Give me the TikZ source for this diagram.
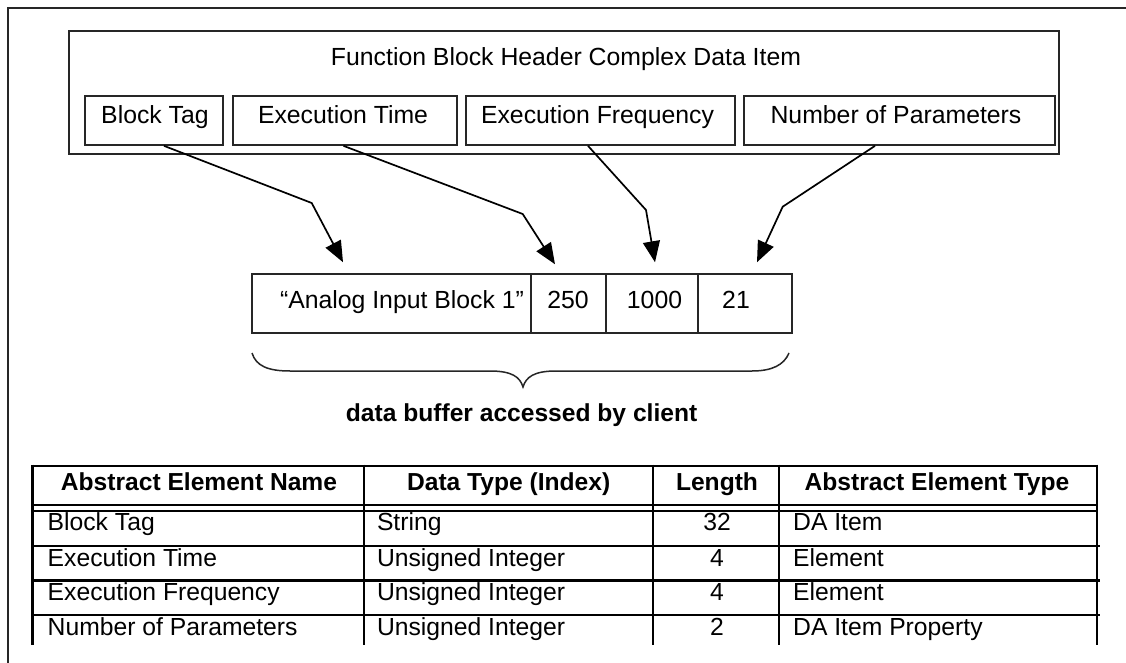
\documentclass[tikz,border=0pt]{standalone}
\usepackage{fontspec}
\setmainfont{Liberation Sans}
\usetikzlibrary{arrows.meta,calc}
\begin{document}
\begin{tikzpicture}[x=1pt,y=-1pt,
  frameline/.style={line width=1.5pt, black!85},
  hbox/.style={draw=black!85, line width=1.7pt, inner sep=0pt},
  sbox/.style={draw=black!85, line width=1.7pt, inner sep=0pt, minimum height=49pt},
  cellbox/.style={draw=black!85, line width=1.5pt, inner sep=0pt, minimum height=59pt},
  lbl/.style={inner sep=0pt, anchor=base, font=\fontsize{24.8}{30}\selectfont},
  captext/.style={inner sep=0pt, anchor=base, font=\fontsize{24.6}{29}\selectfont\bfseries},
  thead/.style={inner sep=0pt, anchor=base, font=\fontsize{24.6}{29}\selectfont\bfseries},
  tcell/.style={inner sep=0pt, anchor=base west, font=\fontsize{24.7}{29}\selectfont},
  tcellc/.style={inner sep=0pt, anchor=base, font=\fontsize{24.7}{29}\selectfont},
  arr/.style={line width=1.7pt, -{Triangle[length=21pt,width=17pt]}},
  thickrule/.style={line width=2.7pt},
  thinrule/.style={line width=1.4pt}
]
\useasboundingbox (0,0) rectangle (1126,663);
\fill[white] (0,0) rectangle (1126,663);
% outer frame
\draw[frameline] (1126,8) -- (8,8) -- (8,663);

% header complex data item
\node[hbox, minimum width=990pt, minimum height=123pt] (hdr) at (564,92.5) {};
\node[lbl] (title) at (566,66) {Function Block Header Complex Data Item};
\node[sbox, minimum width=138pt] (bt) at (154,120.5) {};
\node[sbox, minimum width=224pt] (et) at (345,120.5) {};
\node[sbox, minimum width=269pt] (ef) at (600.5,120.5) {};
\node[sbox, minimum width=311pt] (np) at (899.5,120.5) {};
\node[lbl] (btt) at (155,124) {Block Tag};
\node[lbl] (ett) at (343,124) {Execution Time};
\node[lbl] (eft) at (597.5,124) {Execution Frequency};
\node[lbl] (npt) at (896,124) {Number of Parameters};

% data buffer
\node[cellbox, minimum width=279pt] (c1) at (391.5,303.5) {};
\node[cellbox, minimum width=75pt] (c2) at (568.5,303.5) {};
\node[cellbox, minimum width=92pt] (c3) at (652,303.5) {};
\node[cellbox, minimum width=94pt] (c4) at (745,303.5) {};
\node[lbl] (c1t) at (402,308) {“Analog Input Block 1”};
\node[lbl] (c2t) at (568,308) {250};
\node[lbl] (c3t) at (654.5,308) {1000};
\node[lbl] (c4t) at (736,308) {21};

% arrows
\draw[arr] ([xshift=10pt]bt.south) -- (311.7,203) -- ([xshift=-48.5pt,yshift=11pt]c1.north);
\draw[arr] ([xshift=-1.5pt]et.south) -- (522.7,214) -- ([xshift=-13.5pt,yshift=9pt]c2.north);
\draw[arr] ([xshift=-12.5pt]ef.south) -- (646,210) -- ([xshift=3pt,yshift=11pt]c3.north);
\draw[arr] ([xshift=-24.5pt]np.south) -- (782.7,206.7) -- ([xshift=12pt,yshift=11pt]c4.north);

% brace
\draw[line width=1.5pt, black!85] (252,353) .. controls (256,366) and (268,371) .. (290,371)
  -- (490,371) .. controls (512,371) and (520,377) .. (523,387)
  .. controls (526,377) and (534,371) .. (556,371)
  -- (752,371) .. controls (772,371) and (784,365) .. (789,353);
\node[captext] (capt) at (521.6,421.5) {data buffer accessed by client};

% table lines
\draw[thickrule] (32.7,466) -- (1097,466);
\draw[thickrule] (32.7,505) -- (1097,505);
\draw[line width=2pt] (32.7,510.5) -- (1097,510.5);
\draw[thinrule] (32.7,546) -- (1100,546);
\draw[thickrule] (32.7,580.5) -- (1100,580.5);
\draw[thinrule] (32.7,615) -- (1100,615);
\foreach \xx in {32.7,364,653,779,1097}
  \draw[thickrule] (\xx,464.7) -- (\xx,645);

% table header
\node[thead] (h1) at (199,490) {Abstract Element Name};
\node[thead] (h2) at (508.7,490) {Data Type (Index)};
\node[thead] (h3) at (717,490) {Length};
\node[thead] (h4) at (937,490) {Abstract Element Type};

% table rows
\node[tcell] (r1a) at (47.5,530) {Block Tag};
\node[tcell] (r1b) at (376.8,530) {String};
\node[tcellc] (r1c) at (717,530) {32};
\node[tcell] (r1d) at (793,530) {DA Item};

\node[tcell] (r2a) at (47.5,566) {Execution Time};
\node[tcell] (r2b) at (376.8,566) {Unsigned Integer};
\node[tcellc] (r2c) at (717,566) {4};
\node[tcell] (r2d) at (793,566) {Element};

\node[tcell] (r3a) at (47.5,600) {Execution Frequency};
\node[tcell] (r3b) at (376.8,600) {Unsigned Integer};
\node[tcellc] (r3c) at (717,600) {4};
\node[tcell] (r3d) at (793,600) {Element};

\node[tcell] (r4a) at (47.5,635) {Number of Parameters};
\node[tcell] (r4b) at (376.8,635) {Unsigned Integer};
\node[tcellc] (r4c) at (717,635) {2};
\node[tcell] (r4d) at (793,635) {DA Item Property};
\end{tikzpicture}
\end{document}
